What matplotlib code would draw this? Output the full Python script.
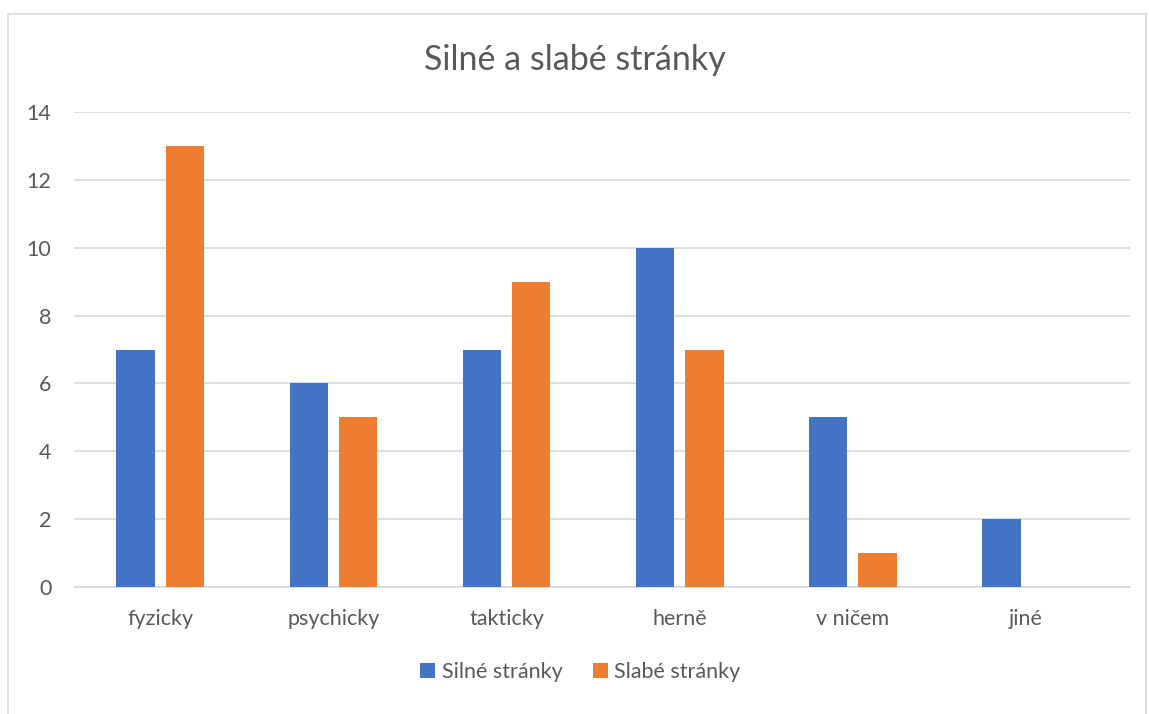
import matplotlib.pyplot as plt
from matplotlib.patches import Rectangle
import numpy as np

plt.rcParams['font.family'] = ['Lato', 'DejaVu Sans']

# Kategorie a hodnoty
kategorie = ["fyzicky", "psychicky", "takticky", "herně", "v ničem", "jiné"]
silne = [7, 6, 7, 10, 5, 2]
slabe = [13, 5, 9, 7, 1, 0]
yticks = [0, 2, 4, 6, 8, 10, 12, 14]

text_color = "#595959"
grid_color = "#D9D9D9"

fig = plt.figure(figsize=(11.49, 7.14), dpi=100)
ax = fig.add_axes([0.0642, 1 - 587 / 714, 0.919, (587 - 112) / 714])

# Rámeček grafu
fig.patches.append(Rectangle((8 / 1149, -0.01), 1138 / 1149, 1 - 14 / 714 + 0.01,
                             transform=fig.transFigure, fill=False,
                             edgecolor=grid_color, linewidth=1.2))

x = np.arange(len(kategorie))
w = 0.223
ax.bar(x - 0.142, silne, w, color="#4472C4", label="Silné stránky", zorder=3)
ax.bar(x + 0.142, slabe, w, color="#ED7D31", label="Slabé stránky", zorder=3)

ax.set_xlim(-0.5, 5.6)
ax.set_ylim(0, 14)
ax.set_yticks(yticks)
ax.set_xticks(x)
ax.set_xticklabels(kategorie)
ax.yaxis.grid(True, color=grid_color, linewidth=1.2, zorder=0)
ax.set_axisbelow(True)
for s in ["top", "right", "left"]:
    ax.spines[s].set_visible(False)
ax.spines["bottom"].set_color(grid_color)
ax.spines["bottom"].set_linewidth(1.2)
ax.tick_params(axis="y", length=0, pad=16, labelsize=15.5, labelcolor=text_color)
ax.tick_params(axis="x", length=0, pad=16, labelsize=15.5, labelcolor=text_color)

fig.text(0.5, 1 - 60 / 714, "Silné a slabé stránky", ha="center", va="center",
         fontsize=24.5, color=text_color)

fig.legend(loc="center", bbox_to_anchor=(0.505, 1 - 672 / 714), ncol=2, frameon=False,
           fontsize=15.5, labelcolor=text_color, handlelength=0.7, handleheight=0.7,
           handletextpad=0.3, columnspacing=1.4)

fig.savefig("out.png", dpi=100)
